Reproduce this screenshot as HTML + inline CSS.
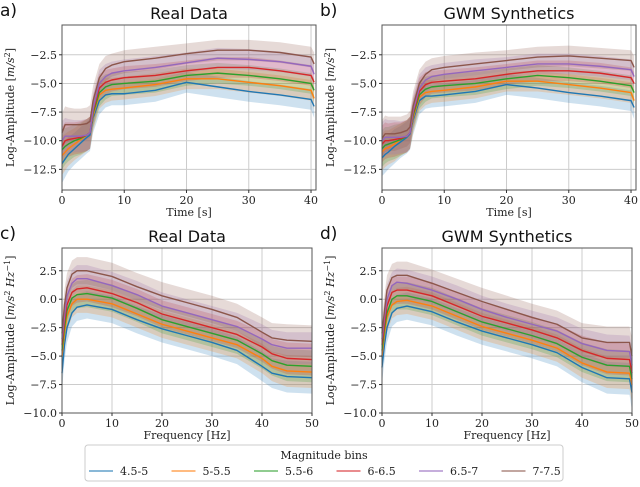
<!DOCTYPE html>
<html><head><meta charset="utf-8"><style>
body{margin:0;background:#fff;width:640px;height:482px;overflow:hidden}
svg{font-family:"DejaVu Serif","Liberation Serif",serif}
.title{font-family:"DejaVu Sans","Liberation Sans",sans-serif;font-size:16px}
.plab{font-family:"DejaVu Sans","Liberation Sans",sans-serif;font-size:17px}
</style></head><body>
<svg id="fig" width="640" height="482" viewBox="0 0 640 482" xmlns="http://www.w3.org/2000/svg"></svg>
<script>
const binLabels=["4.5-5","5-5.5","5.5-6","6-6.5","6.5-7","7-7.5"];
const colors=["#1f77b4","#ff7f0e","#2ca02c","#d62728","#9467bd","#8c564b"];
const timeX=[0,0.5,1,2,3,4,4.5,5,6,7,8,10,15,20,25,30,35,40,40.5];
const realTime=[
[-12,-11.6,-11.2,-10.7,-10.2,-9.7,-9.5,-8,-6.5,-6.0,-5.9,-5.9,-5.6,-4.9,-5.3,-5.7,-6.0,-6.4,-7.0],
[-11.3,-11,-10.7,-10.3,-9.9,-9.5,-9.3,-7.8,-6,-5.6,-5.5,-5.4,-5.1,-4.6,-4.6,-4.9,-5.2,-5.6,-6.3],
[-10.8,-10.5,-10.3,-10,-9.8,-9.5,-9.3,-7.6,-5.8,-5.3,-5.1,-5.0,-4.8,-4.3,-4.1,-4.3,-4.6,-5.0,-5.6],
[-10.5,-10,-9.9,-9.8,-9.7,-9.5,-9.3,-7.4,-5.4,-4.9,-4.7,-4.5,-4.3,-3.9,-3.6,-3.6,-3.9,-4.3,-4.9],
[-10,-9.6,-9.6,-9.6,-9.6,-9.5,-9.3,-7.2,-5,-4.4,-4.1,-3.9,-3.6,-3.2,-2.8,-2.9,-3.1,-3.5,-4.2],
[-9.3,-8.6,-8.6,-8.6,-8.6,-8.5,-8.3,-6.5,-4.5,-3.7,-3.4,-3.1,-2.8,-2.4,-2.1,-2.1,-2.3,-2.7,-3.3]];
const realTimeSpread=[1.7,1.6,1.5,1.4,1.4,1.4,1.4,1.3,1.2,1.1,1.0,1.0,1.0,0.9,0.9,0.9,0.9,0.9,1.0];
const synTime=[
[-11.5,-11.2,-11,-10.5,-10.1,-9.7,-9.4,-8.2,-6.5,-6.1,-6.1,-6.0,-5.7,-5.1,-5.4,-5.8,-6.1,-6.5,-7.1],
[-11,-10.7,-10.6,-10.3,-9.9,-9.6,-9.3,-8,-6.2,-5.8,-5.7,-5.6,-5.3,-4.8,-4.8,-5.1,-5.4,-5.8,-6.5],
[-10.7,-10.4,-10.3,-10.1,-9.9,-9.6,-9.3,-7.8,-6,-5.5,-5.3,-5.2,-5.0,-4.6,-4.3,-4.5,-4.8,-5.2,-5.8],
[-10.3,-10,-10,-9.9,-9.8,-9.6,-9.3,-7.6,-5.7,-5.1,-4.9,-4.8,-4.6,-4.2,-3.9,-3.9,-4.1,-4.5,-5.0],
[-10,-9.7,-9.7,-9.7,-9.7,-9.6,-9.3,-7.4,-5.4,-4.7,-4.4,-4.2,-3.9,-3.6,-3.3,-3.3,-3.5,-3.8,-4.4],
[-9.8,-9.4,-9.4,-9.4,-9.3,-9.1,-8.8,-7.0,-5.0,-4.2,-3.8,-3.6,-3.3,-3.0,-2.7,-2.6,-2.8,-3.0,-3.6]];
const synTimeSpread=[1.6,1.6,1.5,1.5,1.4,1.4,1.4,1.3,1.2,1.1,1.0,1.0,1.0,0.9,0.9,0.9,0.9,0.9,1.0];
const freqX=[0,0.5,1,2,3,5,10,15,20,25,30,35,40,42,45,50];
const realFreq=[
[-6.5,-4,-2.5,-1.2,-0.7,-0.5,-0.9,-1.8,-2.6,-3.2,-3.8,-4.5,-5.9,-6.5,-6.8,-6.9],
[-5,-3,-1.5,-0.4,0,0,-0.4,-1.3,-2.2,-2.8,-3.4,-4.0,-5.2,-5.9,-6.3,-6.4],
[-4.5,-2.5,-1,0.1,0.4,0.5,0.1,-0.8,-1.8,-2.4,-3.0,-3.6,-4.8,-5.4,-5.8,-5.9],
[-4,-2,-0.5,0.6,0.9,1.0,0.5,-0.3,-1.3,-1.9,-2.5,-3.1,-4.2,-4.8,-5.2,-5.3],
[-3.5,-1.5,0.3,1.4,1.8,1.8,1.2,0.4,-0.6,-1.2,-1.8,-2.4,-3.5,-4.0,-4.3,-4.3],
[-3,-0.5,1,2.2,2.5,2.5,2.0,1.1,0.3,-0.3,-0.9,-1.6,-2.9,-3.4,-3.6,-3.7]];
const realFreqSpread=[1.5,1.4,1.3,1.2,1.2,1.2,1.2,1.2,1.2,1.2,1.2,1.2,1.3,1.3,1.4,1.4];
const freqXd=[0,0.5,1,2,3,5,10,15,20,25,30,35,40,45,49.5,50];
const synFreq=[
[-6,-4,-2.5,-1.2,-0.8,-0.6,-1.1,-2.0,-2.8,-3.4,-4.0,-4.7,-6.0,-6.9,-7.0,-8.2],
[-5,-3,-1.6,-0.5,-0.2,-0.1,-0.6,-1.5,-2.4,-3.0,-3.6,-4.3,-5.6,-6.4,-6.5,-7.5],
[-4.5,-2.6,-1.2,0,0.3,0.3,-0.2,-1.1,-2.0,-2.6,-3.2,-3.9,-5.1,-5.8,-5.9,-7.0],
[-4,-2.2,-0.6,0.6,0.8,0.8,0.3,-0.6,-1.5,-2.1,-2.7,-3.4,-4.5,-5.2,-5.3,-6.5],
[-3.5,-1.6,0,1.2,1.5,1.4,0.8,0,-0.9,-1.6,-2.2,-2.8,-3.9,-4.5,-4.6,-5.8],
[-3,-1,0.8,1.9,2.1,2.1,1.4,0.6,-0.2,-0.9,-1.6,-2.2,-3.4,-3.8,-3.8,-5.0]];
const synFreqSpread=[1.4,1.4,1.3,1.2,1.2,1.2,1.2,1.2,1.2,1.2,1.2,1.2,1.3,1.4,1.4,1.6];
const timeTicks=[0,10,20,30,40];
const timeYTicks=[-2.5,-5.0,-7.5,-10.0,-12.5];
const freqTicks=[0,10,20,30,40,50];
const freqYTicks=[2.5,0.0,-2.5,-5.0,-7.5,-10.0];

const NS="http://www.w3.org/2000/svg";
const fig=document.getElementById('fig');
function mk(tag,attrs,parent,text){const e=document.createElementNS(NS,tag);for(const k in attrs)e.setAttribute(k,attrs[k]);if(text!==undefined)e.textContent=text;(parent||fig).appendChild(e);return e;}
function fmt(v){return (v<0?"\u2212":"")+Math.abs(v).toFixed(1);}

function panel(cfg){
  const g=mk('g',{});
  
  
  const sx=v=>cfg.L+(v-cfg.x0)/(cfg.x1-cfg.x0)*(cfg.R-cfg.L);
  const sy=v=>cfg.T+(cfg.y1-v)/(cfg.y1-cfg.y0)*(cfg.B-cfg.T);
  cfg.xt.forEach(t=>{const l=mk('line',{x1:sx(t),x2:sx(t),y1:cfg.T,y2:cfg.B,stroke:'#ccc','stroke-width':1},g);});
  cfg.yt.forEach(t=>{const l=mk('line',{x1:cfg.L,x2:cfg.R,y1:sy(t),y2:sy(t),stroke:'#ccc','stroke-width':1},g);});
  cfg.data.forEach((ser,i)=>{
    let up=cfg.xs.map((x,j)=>sx(x)+','+sy(ser[j]+cfg.spread[j]));
    let lo=cfg.xs.map((x,j)=>sx(x)+','+sy(ser[j]-cfg.spread[j])).reverse();
    const p=mk('polygon',{points:up.concat(lo).join(' '),fill:colors[i],'fill-opacity':0.22,stroke:'none'},g);
    
    
  });
  cfg.data.forEach((ser,i)=>{
    const p=mk('polyline',{points:cfg.xs.map((x,j)=>sx(x)+','+sy(ser[j])).join(' '),fill:'none',stroke:colors[i],'stroke-width':1.4,'stroke-linejoin':'round'},g);
    
    
  });
  const fr=mk('rect',{x:cfg.L,y:cfg.T,width:cfg.R-cfg.L,height:cfg.B-cfg.T,fill:'none',stroke:'#555','stroke-width':1},g);
  
  cfg.xt.forEach(t=>{mk('line',{x1:sx(t),x2:sx(t),y1:cfg.B,y2:cfg.B+3,stroke:'#333'},g);
    const tx=mk('text',{x:sx(t),y:cfg.B+14,'text-anchor':'middle','font-size':11,fill:'#222'},g,String(t));
    });
  cfg.yt.forEach(t=>{mk('line',{x1:cfg.L-3,x2:cfg.L,y1:sy(t),y2:sy(t),stroke:'#333'},g);
    const tx=mk('text',{x:cfg.L-5,y:sy(t)+4,'text-anchor':'end','font-size':11,fill:'#222'},g,fmt(t));
    });
  const xl=mk('text',{x:(cfg.L+cfg.R)/2,y:cfg.B+26,'text-anchor':'middle','font-size':11,fill:'#222'},g,cfg.xlabel);
  
  const yl=mk('text',{x:0,y:0,'text-anchor':'middle','font-size':11,fill:'#222',transform:`translate(${cfg.L-48},${(cfg.T+cfg.B)/2}) rotate(-90)`},g);
  
  yl.innerHTML=cfg.ylabel;
  const ti=mk('text',{x:(cfg.L+cfg.R)/2,y:cfg.T-6,'text-anchor':'middle',class:'title',fill:'#111'},g,cfg.title);
  
  const pl=mk('text',{x:cfg.L-62,y:cfg.T-9,class:'plab',fill:'#111'},g,cfg.plab);
  
}
const ylT='Log-Amplitude [<tspan font-style="italic">m/s</tspan><tspan font-size="8" dy="-4">2</tspan><tspan dy="4">]</tspan>';
const ylF='Log-Amplitude [<tspan font-style="italic">m/s</tspan><tspan font-size="8" dy="-4">2</tspan><tspan dy="4" font-style="italic"> Hz</tspan><tspan font-size="8" dy="-4">−1</tspan><tspan dy="4">]</tspan>';
panel({name:'panel-a',plab:'a)',title:'Real Data',L:62,R:316,T:25,B:190,x0:0,x1:40.8,y0:-14.3,y1:0.1,xs:timeX,data:realTime,spread:realTimeSpread,xt:timeTicks,yt:timeYTicks,xlabel:'Time [s]',ylabel:ylT});
panel({name:'panel-b',plab:'b)',title:'GWM Synthetics',L:382,R:636,T:25,B:190,x0:0,x1:40.8,y0:-14.3,y1:0.1,xs:timeX,data:synTime,spread:synTimeSpread,xt:timeTicks,yt:timeYTicks,xlabel:'Time [s]',ylabel:ylT});
panel({name:'panel-c',plab:'c)',title:'Real Data',L:62,R:312,T:248,B:413,x0:0,x1:50,y0:-10,y1:4.5,xs:freqX,data:realFreq,spread:realFreqSpread,xt:freqTicks,yt:freqYTicks,xlabel:'Frequency [Hz]',ylabel:ylF});
panel({name:'panel-d',plab:'d)',title:'GWM Synthetics',L:382,R:632,T:248,B:413,x0:0,x1:50,y0:-10,y1:4.5,xs:freqXd,data:synFreq,spread:synFreqSpread,xt:freqTicks,yt:freqYTicks,xlabel:'Frequency [Hz]',ylabel:ylF});

const lg=mk('g',{});


mk('rect',{x:85,y:445,width:478,height:36,rx:3,fill:'#fff',stroke:'#ccc'},lg);
const lt=mk('text',{x:324,y:459,'text-anchor':'middle','font-size':11,fill:'#222'},lg,'Magnitude bins');

binLabels.forEach((b,i)=>{
  const x=89+i*82.5;
  const e=mk('g',{},lg);
  
  
  mk('line',{x1:x,x2:x+24,y1:471,y2:471,stroke:colors[i],'stroke-width':1.5,'stroke-opacity':0.7},e);
  mk('text',{x:x+31,y:475,'font-size':11,fill:'#222'},e,b);
});
</script>
</body></html>
